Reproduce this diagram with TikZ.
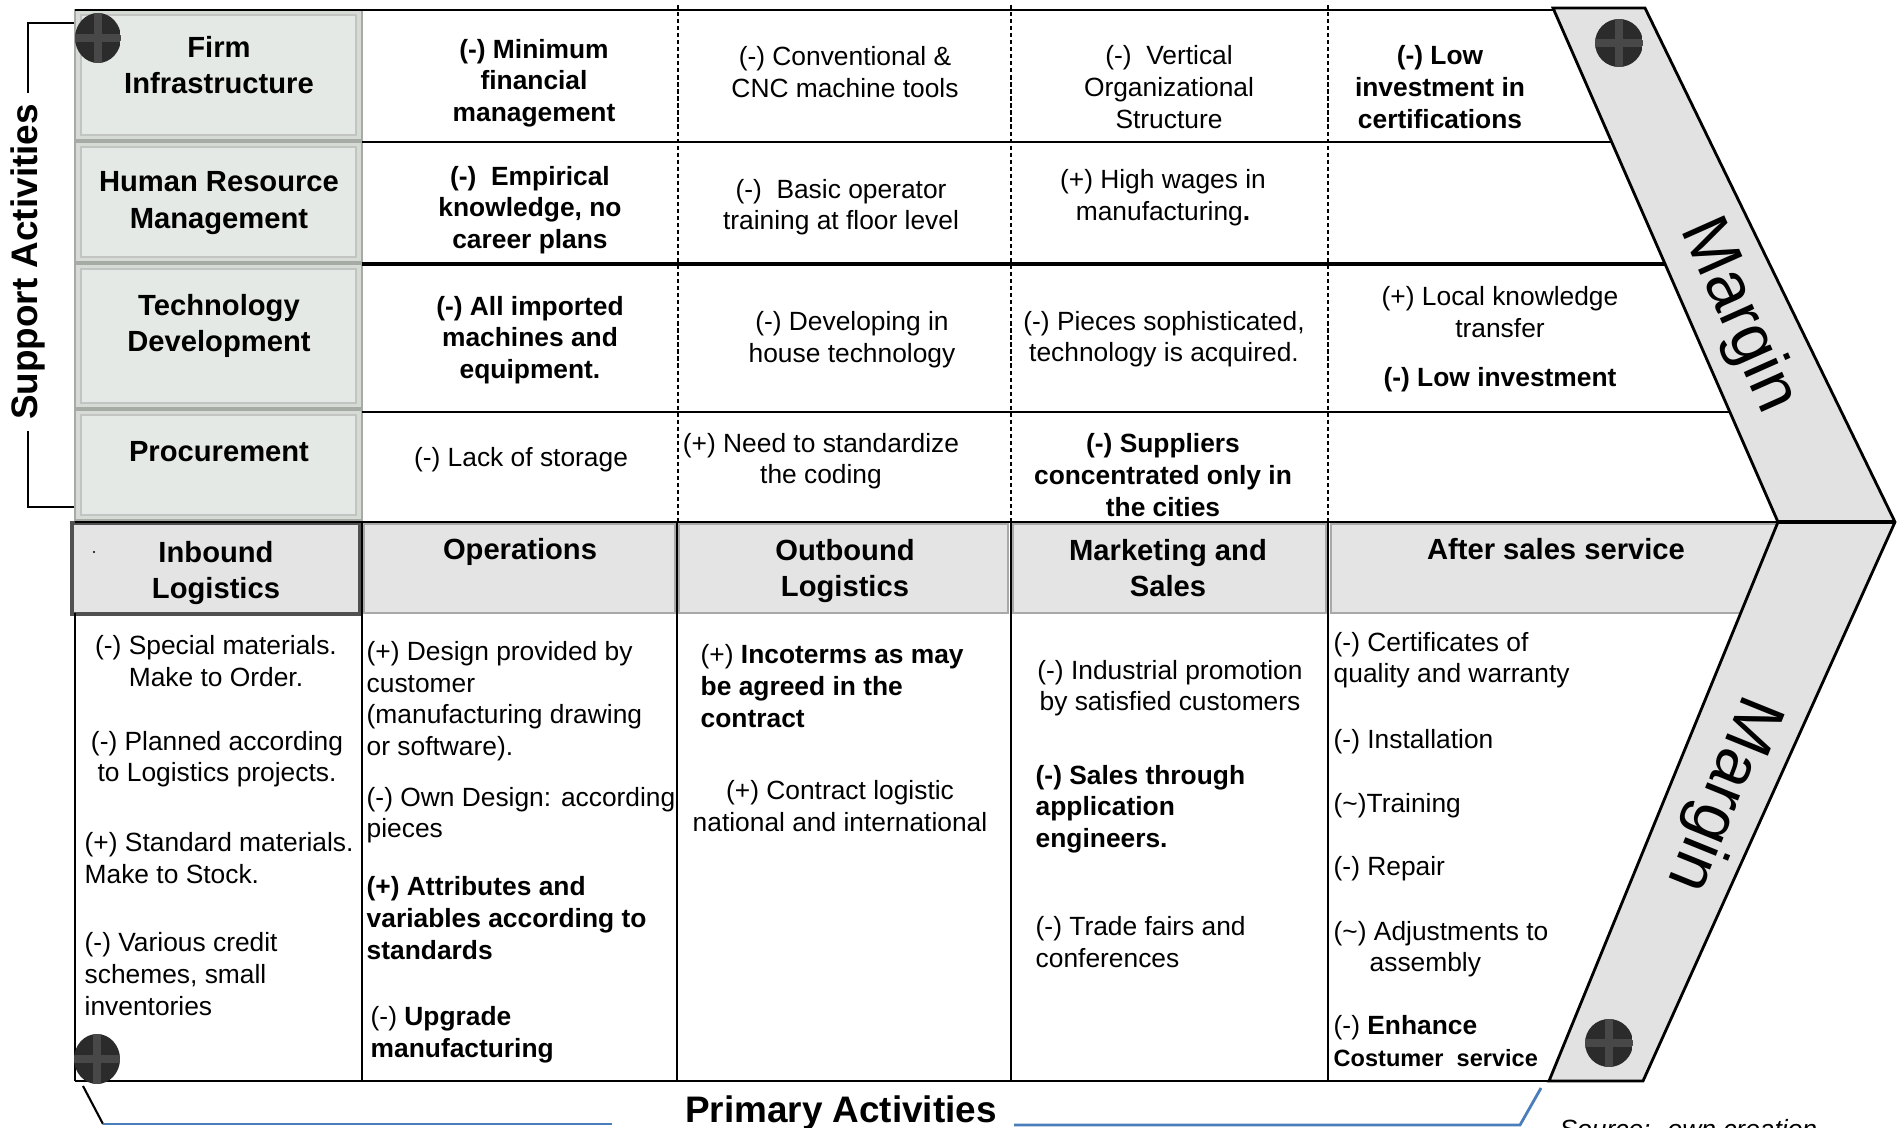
\documentclass[tikz,border=0pt]{standalone}
\usepackage{fontspec}
\setmainfont{Liberation Sans}
\usepackage{tikz}
\usetikzlibrary{positioning}
\definecolor{boxring}{HTML}{D6DBD6}
\definecolor{boxpanel}{HTML}{E5E9E5}
\definecolor{boxedge}{HTML}{A6ABA6}
\definecolor{headgray}{HTML}{E4E4E4}
\definecolor{headedge}{HTML}{A8A8A8}
\definecolor{darkedge}{HTML}{505050}
\definecolor{margingray}{HTML}{E2E2E2}
\definecolor{boltdark}{HTML}{2A2B2A}
\definecolor{boltcross}{HTML}{474847}
\definecolor{bracketblue}{HTML}{4A7EBB}
\tikzset{
  lbox/.style={draw=boxedge,fill=boxring,line width=0.5pt},
  lpanel/.style={draw=boxedge!70,fill=boxpanel,line width=0.4pt},
  hbox/.style={draw=headedge,fill=headgray,line width=0.6pt},
  rowline/.style={line width=0.5pt},
  dashcol/.style={line width=0.4pt,dash pattern=on 1.2pt off 0.8pt},
  colline/.style={line width=0.7pt},
  celltxt/.style={font=\fontsize{7.5}{9}\selectfont,inner sep=0pt,align=center},
  cellbold/.style={celltxt,font=\fontsize{7.5}{9}\selectfont\bfseries},
  lefttxt/.style={celltxt,align=left,anchor=west},
  leftbold/.style={cellbold,align=left,anchor=west},
  headtxt/.style={font=\fontsize{8.3}{10.3}\selectfont\bfseries,inner sep=0pt,align=center},
  sidetxt/.style={font=\fontsize{10.5}{12}\selectfont\bfseries,inner sep=3pt},
  margintxt/.style={font=\fontsize{19}{22}\selectfont,inner sep=0pt},
  bracket/.style={line width=0.6pt}
}

\begin{document}
\begin{tikzpicture}[x=0.1mm,y=-0.1mm]
  % Canvas (units of 0.1mm, y pointing down)
  \fill[white] (0,0) rectangle (1900,1128);
  \useasboundingbox (0,0) rectangle (1900,1128);
  \clip (0,0) rectangle (1900,1128);
  % Support activity labels
  \foreach \ya/\yb in {10/140, 142/262, 264/408, 410/520} {
    \draw[lbox] (75,\ya) rectangle (362,\yb);
    \draw[lpanel] (81,\ya+5) rectangle (356,\yb-5);
  }
  % Primary activity headers
  \draw[hbox,draw=darkedge,line width=1.1pt] (72,523) rectangle (360,614);
  \foreach \xa/\xb in {364/675, 679/1008, 1013/1326, 1331/1790}
    \draw[hbox] (\xa,524) rectangle (\xb,613);
  \fill (94,552) circle (1.2);
  % Grid lines
  \draw[rowline] (75,10) -- (1580,10);
  \draw[rowline] (362,142) -- (1650,142);
  \draw[rowline,line width=0.9pt] (362,264) -- (1700,264);
  \draw[rowline] (362,412) -- (1760,412);
  \draw[rowline,line width=0.7pt] (75,522) -- (1778,522);
  \draw[rowline,line width=0.7pt] (75,1081) -- (1570,1081);
  \foreach \x in {678, 1011, 1328}
    \draw[dashcol] (\x,5) -- (\x,522);
  \draw[line width=0.4pt] (75,613) -- (75,1081);
  \foreach \x in {362, 677, 1011, 1328}
    \draw[colline] (\x,522) -- (\x,1081);
  % Margin chevron
  \draw[fill=margingray,line width=0.8pt,line join=miter]
    (1553,8) -- (1645,8) -- (1895,522) -- (1643,1081) -- (1549,1081) -- (1778,522) -- cycle;
  \draw[line width=1.3pt] (1778,522) -- (1895,522);
  \node[margintxt,rotate=-66] (m1) at (1738,316) {Margin};
  \node[margintxt,rotate=-112] (m2) at (1722,794) {Margin};
  % Bolts
  \foreach \bx/\by/\rx/\ry in {98/38/23/25, 97/1059/23/25, 1619/43/24/24, 1609/1043/24/24} {
    \begin{scope}
      \clip (\bx,\by) ellipse ({\rx} and {\ry});
      \fill[boltdark] (\bx-\rx,\by-\ry) rectangle (\bx+\rx,\by+\ry);
      \fill[boltcross] (\bx-\rx,\by-4) rectangle (\bx+\rx,\by+4);
      \fill[boltcross] (\bx-4,\by-\ry) rectangle (\bx+4,\by+\ry);
    \end{scope}
  }
  % Row and column titles
  \node[headtxt] (firm) at (219,65) {Firm\\Infrastructure};
  \node[headtxt] (hrm) at (219,203) {Human Resource\\Management};
  \node[headtxt] (tech) at (219,326) {Technology\\Development};
  \node[headtxt] (proc) at (219,452) {Procurement};
  \node[headtxt] (inb) at (216,573) {Inbound\\Logistics};
  \node[headtxt] (ops) at (520,552) {Operations};
  \node[headtxt] (outb) at (845,571) {Outbound\\Logistics};
  \node[headtxt] (mkt) at (1168,568) {Marketing and\\Sales};
  \node[headtxt] (after) at (1556,549) {After sales service};
  % Support cells
  \node[cellbold] (f1) at (534,83) {(-) Minimum\\financial\\management};
  \node[celltxt] (f2) at (845,72) {(-) Conventional \&\\CNC machine tools};
  \node[celltxt] (f3) at (1169,87) {(-)~ Vertical\\Organizational\\Structure};
  \node[cellbold] (f4) at (1440,87) {(-) Low\\investment in\\certifications};
  \node[cellbold] (h1) at (530,210) {(-)~ Empirical\\knowledge, no\\career plans};
  \node[celltxt] (h2) at (841,207) {(-)~ Basic operator\\training at floor level};
  \node[celltxt] (h3) at (1163,198) {(+) High wages in\\manufacturing\textbf{.}};
  \node[cellbold] (t1) at (530,340) {(-) All imported\\machines and\\equipment.};
  \node[celltxt] (t2) at (852,340) {(-) Developing in\\house technology};
  \node[celltxt] (t3) at (1164,339) {(-) Pieces sophisticated,\\technology is acquired.};
  \node[celltxt] (t4) at (1500,339) {(+) Local knowledge\\transfer\\[5pt]\textbf{(-) Low investment}};
  \node[celltxt] (pr1) at (521,460) {(-) Lack of storage};
  \node[celltxt] (pr2) at (821,461) {(+) Need to standardize\\the coding};
  \node[cellbold] (pr3) at (1163,475) {(-) Suppliers\\concentrated only in\\the cities};
  % Primary cells
  \node[celltxt] (in1) at (216,661) {(-) Special materials.\\Make to Order.};
  \node[celltxt] (in2) at (217,759) {(-) Planned according\\to Logistics projects.};
  \node[lefttxt] (in3) at (84,858) {(+) Standard materials.\\Make to Stock.};
  \node[lefttxt] (in4) at (84,974) {(-) Various credit\\schemes, small\\inventories};
  \node[lefttxt] (op1) at (366,701) {(+) Design provided by\\customer\\(manufacturing drawing\\or software).};
  \node[lefttxt] (op2) at (366,815) {(-) Own Design: according\\pieces};
  \node[leftbold] (op3) at (366,918) {(+) Attributes and\\variables according to\\standards};
  \node[lefttxt] (op4) at (370,1035) {(-) \textbf{Upgrade}\\\textbf{manufacturing}};
  \node[lefttxt] (ou1) at (700,686) {(+) \textbf{Incoterms as may}\\\textbf{be agreed in the}\\\textbf{contract}};
  \node[celltxt] (ou2) at (840,806) {(+) Contract logistic\\national and international};
  \node[celltxt] (mk1) at (1170,688) {(-) Industrial promotion\\by satisfied customers};
  \node[leftbold] (mk2) at (1035,809) {(-) Sales through\\application\\engineers.};
  \node[lefttxt] (mk3) at (1035,942) {(-) Trade fairs and\\conferences};
  \node[lefttxt] (as1) at (1333,660) {(-) Certificates of\\quality and warranty};
  \node[lefttxt] (as2) at (1333,742) {(-) Installation};
  \node[lefttxt] (as3) at (1333,806) {(\textasciitilde)Training};
  \node[lefttxt] (as4) at (1333,869) {(-) Repair};
  \node[lefttxt] (as5) at (1333,949) {(\textasciitilde) Adjustments to\\\hspace*{3.6mm}assembly};
  \node[lefttxt] (as6) at (1333,1041) {(-) \textbf{Enhance}\\{\fontsize{6.7}{8}\selectfont\bfseries Costumer~ service}};
  % Support activities bracket
  \node[sidetxt,rotate=90] (sa) at (28,262) {Support Activities};
  \coordinate (satop) at (28,23);
  \coordinate (satopend) at (74,23);
  \coordinate (sabot) at (28,507);
  \coordinate (sabotend) at (74,507);
  \draw[bracket] (sa.east) -- (satop) -- (satopend);
  \draw[bracket] (sa.west) -- (sabot) -- (sabotend);
  % Primary activities bracket
  \node[sidetxt,inner sep=0pt] (pa) at (841,1113) {Primary Activities};
  \coordinate (pl1) at (83,1086);
  \coordinate (pl2) at (103,1124);
  \coordinate (pl3) at (612,1124);
  \coordinate (pr1) at (1014,1125);
  \coordinate (pr2) at (1520,1125);
  \coordinate (pr3) at (1541,1088);
  \draw[bracket] (pl1) -- (pl2);
  \draw[bracket,bracketblue,line width=0.8pt] (pl2) -- (pl3);
  \draw[bracket,bracketblue,line width=0.8pt] (pr1) -- (pr2) -- (pr3);
  \node[font=\fontsize{7.5}{9}\selectfont\itshape,inner sep=0pt,anchor=north west] (src) at (1559,1119) {Source:~ own creation};
\end{tikzpicture}
\end{document}
